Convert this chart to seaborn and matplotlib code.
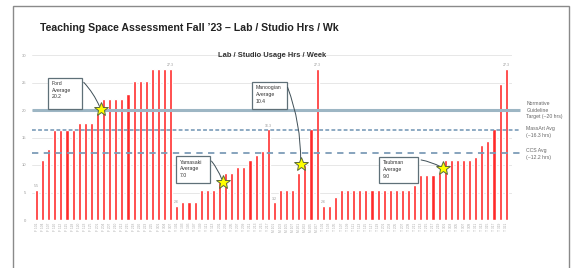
import matplotlib
matplotlib.use("Agg")
import matplotlib.pyplot as plt
import seaborn as sns
import pandas as pd
from matplotlib.patches import Rectangle

# room labels (illegible in source, short codes)
rooms = [
    "F 101", "F 104", "F 107", "F 110", "F 112", "F 115", "F 118", "F 120", "F 123", "F 125",
    "F 201", "F 204", "F 207", "F 210", "F 212", "F 215", "F 218", "F 220", "F 223", "F 225",
    "F 301", "F 304", "F 307", "Y 101", "Y 103", "Y 105", "Y 107", "Y 109", "Y 111", "Y 113",
    "Y 201", "Y 203", "Y 205", "Y 207", "Y 209", "Y 211", "Y 213", "Y 215", "Y 217", "M 101",
    "M 103", "M 105", "M 107", "M 201", "M 203", "M 205", "M 207", "T 101", "T 103", "T 105",
    "T 107", "T 109", "T 111", "T 113", "T 115", "T 117", "T 119", "T 201", "T 203", "T 205",
    "T 207", "T 209", "T 211", "T 213", "T 215", "T 217", "T 219", "T 301", "T 303", "T 305",
    "T 307", "T 309", "T 311", "T 313", "T 315", "T 317", "T 319", "T 321",
]
hours = [
    5.5, 11.0, 13.0, 16.4, 16.4, 16.4, 16.4, 17.6, 17.6, 17.6,
    19.4, 22.0, 22.0, 22.0, 22.0, 23.0, 25.3, 25.3, 25.3, 27.5,
    27.5, 27.5, 27.5, 2.6, 3.2, 3.2, 3.2, 5.5, 5.5, 5.5,
    7.0, 8.6, 8.6, 9.7, 9.7, 11.0, 11.9, 12.6, 16.5, 3.2,
    5.5, 5.5, 5.5, 8.6, 10.0, 16.5, 27.5, 2.6, 2.6, 4.2,
    5.5, 5.5, 5.5, 5.5, 5.5, 5.5, 5.5, 5.5, 5.5, 5.5,
    5.5, 5.5, 6.4, 8.2, 8.2, 8.2, 8.6, 11.0, 11.0, 11.0,
    11.0, 11.0, 11.4, 13.6, 14.4, 16.5, 24.8, 27.5,
]
# value labels shown above selected bars (index, text)
value_labels = [(0, "5.5"), (22, "27.3"), (23, "2.6"), (38, "16.3"), (39, "3.2"),
                (46, "27.3"), (47, "2.6"), (77, "27.3")]

# reference lines
ref_values = [20.0, 16.3, 12.2]
ref_names = ["Normative\nGuideline\nTarget (~20 hrs)", "MassArt Avg\n(~16.3 hrs)", "CCS Avg\n(~12.2 hrs)"]

# building averages: box text, star position (bar index, value)
avg_text = ["Ford\nAverage\n20.2", "Yamasaki\nAverage\n7.0", "Manoogian\nAverage\n10.4", "Taubman\nAverage\n9.0"]
avg_star_x = [10.5, 30.5, 43.3, 66.7]
avg_star_y = [20.2, 7.0, 10.1, 9.4]

df = pd.DataFrame({"Room": rooms, "Hours": hours})

sns.set_style("white")
plt.rcParams["font.family"] = ["Liberation Sans", "DejaVu Sans"]

fig = plt.figure(figsize=(5.74, 2.68), dpi=100)
ax = fig.add_axes([32 / 574, 1 - 220 / 268, 480 / 574, 165 / 268])

sns.barplot(data=df, x="Room", y="Hours", color="#ff2a2a", width=0.5,
            saturation=1, ax=ax, zorder=3)

ax.set_ylim(0, 30)
ax.set_xlim(-0.74, 77.95)
ax.set_yticks([0, 5, 10, 15, 20, 25, 30])
ax.yaxis.grid(True, color="#e3e3e3", lw=0.6, zorder=0)
ax.tick_params(axis="y", labelsize=3, colors="#999999", length=0, pad=4)
ax.tick_params(axis="x", labelsize=2.3, colors="#aaaaaa", length=0, pad=2, rotation=90)
ax.set_xlabel("")
ax.set_ylabel("")
sns.despine(ax=ax, left=True, bottom=True)

for i, txt in value_labels:
    ax.text(i, hours[i] + 0.3, txt, ha="center", va="bottom", fontsize=2.6, color="#999999")

# reference lines
ax.hlines(ref_values[0], -0.74, 79.3, color="#9db6c4", lw=2.2, zorder=4, clip_on=False)
ax.hlines(ref_values[1], -0.74, 79.3, color="#6f93b3", lw=1.1, ls=(0, (2.5, 1.5)), zorder=4, clip_on=False)
ax.hlines(ref_values[2], -0.74, 79.3, color="#7d9cb8", lw=1.3, ls=(0, (3.5, 3)), zorder=4, clip_on=False)
for y, name in zip([20.0, 16.0, 12.0], ref_names):
    ax.text(80.3, y, name, ha="left", va="center",
            fontsize=3.7, color="#666666", clip_on=False, linespacing=1.3)

# average boxes with leader lines
boxes = [(1.93, 20.1, 5.5, 5.8), (22.9, 6.8, 5.5, 4.8), (35.3, 20.1, 5.7, 5.0), (56.2, 6.8, 6.4, 4.7)]
for (bx, by, bw, bh), txt, sx, sy in zip(boxes, avg_text, avg_star_x, avg_star_y):
    ax.add_patch(Rectangle((bx, by), bw, bh, facecolor="white", edgecolor="#5f7078",
                           lw=0.9, zorder=6))
    ax.text(bx + 0.6, by + bh - 0.6, txt, ha="left", va="top", fontsize=3.7,
            color="#333333", zorder=7, linespacing=1.45)
    ax.annotate("", xy=(sx, sy), xytext=(bx + bw, by + bh - 0.5),
                arrowprops=dict(arrowstyle="-", color="#3f4f57", lw=0.7,
                                connectionstyle="arc3,rad=-0.1"), zorder=6)
    ax.plot(sx, sy, marker="*", ms=10, mfc="#ffff00", mec="#5a6a3a", mew=0.7, zorder=8)

ax.set_title("Lab / Studio Usage Hrs / Week", fontsize=5.4, fontweight="bold",
             color="#333333", y=0.985, pad=0)

fig.text(40 / 574, 1 - 28 / 268, "Teaching Space Assessment Fall \u201923 \u2013 Lab / Studio Hrs / Wk",
         ha="left", va="center", fontsize=7.6, fontweight="bold", color="#222222")

fig.patches.append(Rectangle((13 / 574, -0.05), 556 / 574, 1.028, transform=fig.transFigure,
                             fill=False, edgecolor="#8a8a8a", lw=1.0))

fig.savefig("out.png", dpi=100)
